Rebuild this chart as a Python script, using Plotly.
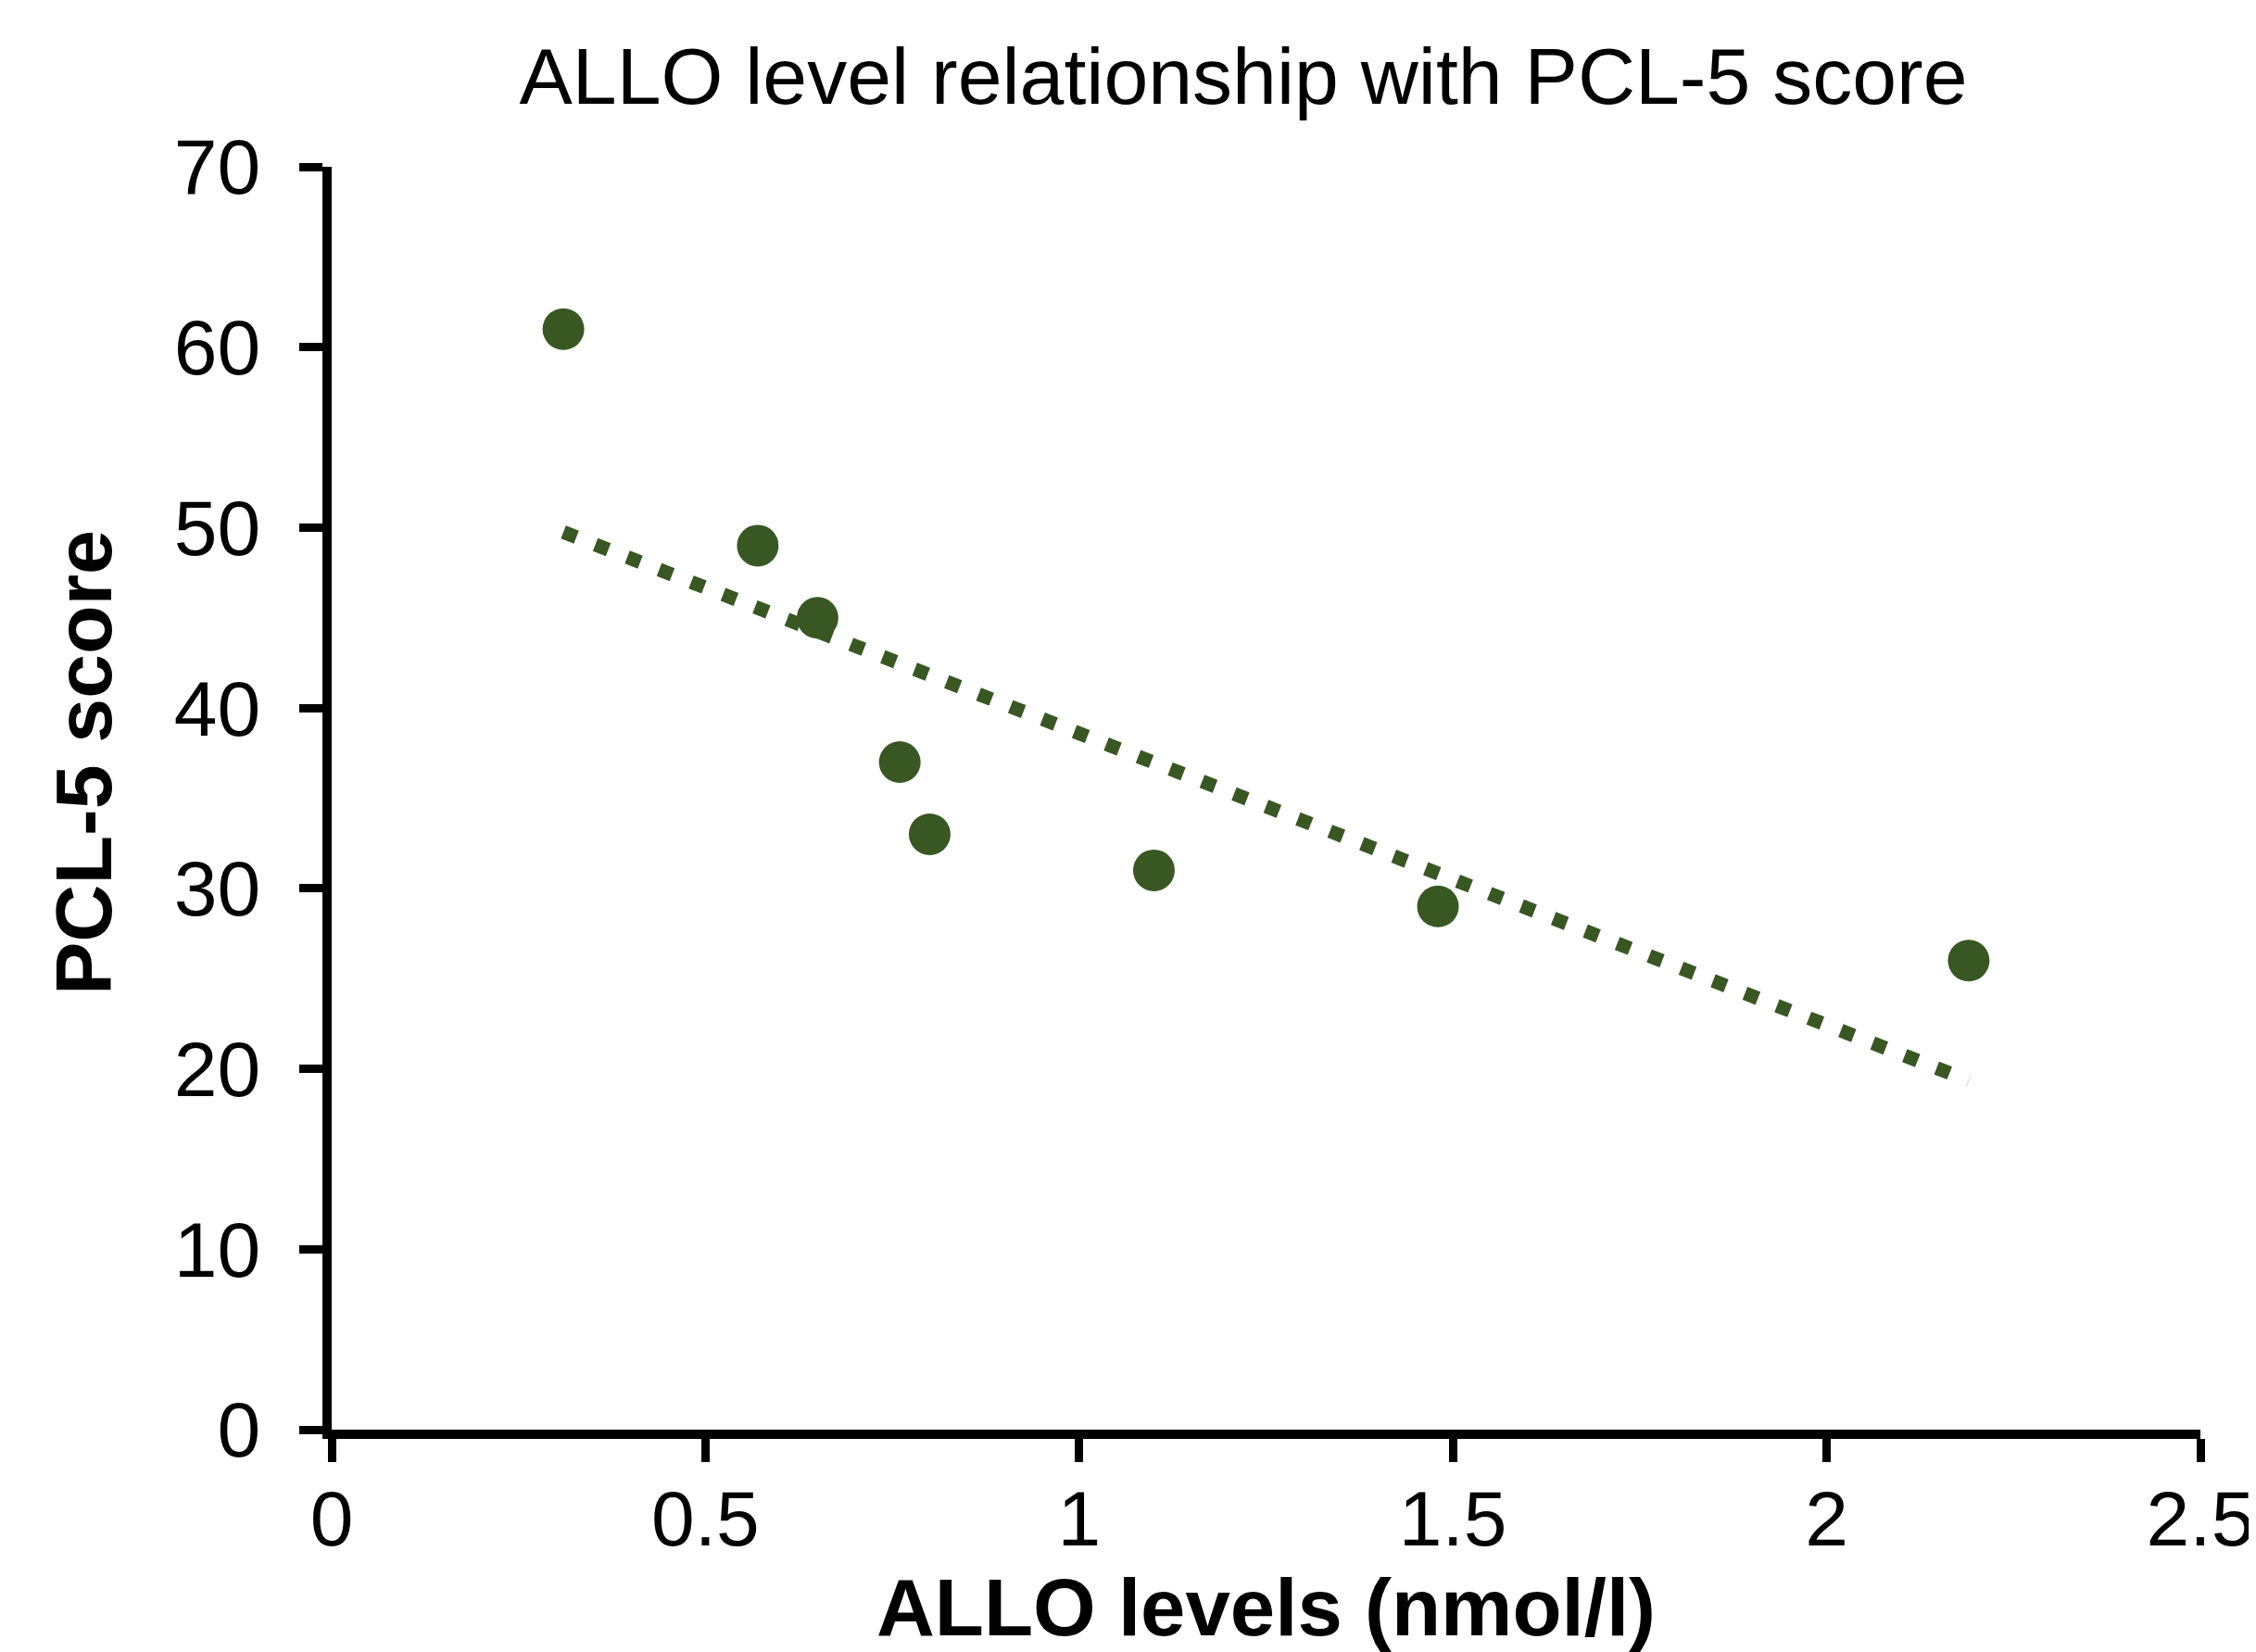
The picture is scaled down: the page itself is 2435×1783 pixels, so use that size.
import numpy as np
import plotly.graph_objects as go

# Data
allo_levels = [0.31, 0.57, 0.65, 0.76, 0.80, 1.10, 1.48, 2.19]
pcl5_scores = [61, 49, 45, 37, 33, 31, 29, 26]
x_ticks = [0, 0.5, 1, 1.5, 2, 2.5]
x_tick_labels = ["0", "0.5", "1", "1.5", "2", "2.5"]
y_ticks = [0, 10, 20, 30, 40, 50, 60, 70]

GREEN = "#385723"
FONT = "Liberation Sans, Arial, sans-serif"

# Linear trendline (least squares) from the data
slope, intercept = np.polyfit(allo_levels, pcl5_scores, 1)
trend_x = [min(allo_levels), max(allo_levels)]
trend_y = [slope * v + intercept for v in trend_x]

fig = go.Figure()
fig.add_trace(go.Scatter(
    x=trend_x, y=trend_y, mode="lines",
    line=dict(color=GREEN, width=15, dash="15px,22px"),
    hoverinfo="skip", showlegend=False,
))
fig.add_trace(go.Scatter(
    x=allo_levels, y=pcl5_scores, mode="markers",
    marker=dict(color=GREEN, size=45, line=dict(width=0)),
    showlegend=False,
))

W, H = 2435, 1783
L, R, T, B = 350, 68, 172, 248

fig.update_layout(
    width=W, height=H,
    margin=dict(l=L, r=R, t=T, b=B, autoexpand=False),
    paper_bgcolor="white", plot_bgcolor="white",
    font=dict(family=FONT, color="black"),
    title=dict(
        text="ALLO level relationship with PCL-5 score",
        font=dict(family=FONT, size=86, color="black"),
        x=1334 / W, xanchor="center",
        y=1 - 74 / H, yanchor="middle",
    ),
    xaxis=dict(
        range=[0, 2.5], tickmode="array", tickvals=x_ticks, ticktext=x_tick_labels,
        showgrid=False, zeroline=False, automargin=False,
        showline=True, linecolor="black", linewidth=10,
        ticks="outside", ticklen=25, tickwidth=9, tickcolor="black",
        tickfont=dict(family=FONT, size=84, color="black"),
        ticklabelstandoff=-11,
        title=dict(text="<b>ALLO levels (nmol/l)</b>",
                   font=dict(family=FONT, size=87, color="black"), standoff=20),
    ),
    yaxis=dict(
        range=[0, 70], tickmode="array", tickvals=y_ticks,
        showgrid=False, zeroline=False, automargin=False,
        showline=True, linecolor="black", linewidth=10,
        ticks="outside", ticklen=25, tickwidth=9, tickcolor="black",
        tickfont=dict(family=FONT, size=84, color="black"),
        ticklabelstandoff=25,
    ),
    annotations=[dict(
        text="<b>PCL-5 score</b>", textangle=-90,
        xref="paper", yref="paper",
        x=(82 - L) / (W - L - R), y=(H - B - 815) / (H - T - B),
        xanchor="center", yanchor="middle", showarrow=False,
        font=dict(family=FONT, size=86, color="black"),
    )],
)

fig.write_html("out.html")
